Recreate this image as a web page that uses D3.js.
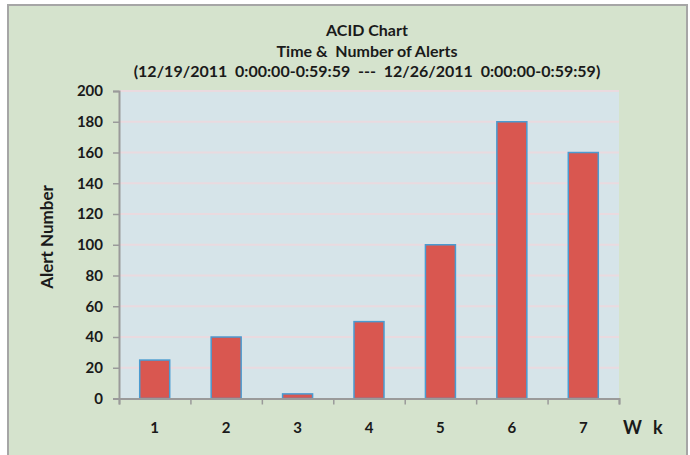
<!DOCTYPE html>
<html lang="en">
<head>
  <meta charset="UTF-8" />
  <script src="https://d3js.org/d3.v7.min.js"></script>
  <title>ACID Chart</title>
  <style>
    body { margin: 0; background: #fff; }
    text { font-family: Lato, "Open Sans", sans-serif; font-weight: bold; fill: #1a1a1a; }
  </style>
</head>
<body>
  <svg width="690" height="455"></svg>
  <script>
    const categories = ["1", "2", "3", "4", "5", "6", "7"];
    const alerts = [25, 40, 3, 50, 100, 180, 160];
    const yTicks = [0, 20, 40, 60, 80, 100, 120, 140, 160, 180, 200];
    const titleLines = [
      "ACID Chart",
      "Time & \u00a0Number of Alerts",
      "(12/19/2011 \u00a00:00:00-0:59:59 \u00a0--- \u00a012/26/2011 \u00a00:00:00-0:59:59)"
    ];

    const svg = d3.select("svg");

    // outer chart box
    svg.append("rect")
      .attr("x", 8).attr("y", 5)
      .attr("width", 679).attr("height", 460)
      .attr("fill", "#d5e3cd")
      .attr("stroke", "#a6a6a6")
      .attr("stroke-width", 2);

    const margin = { top: 91, left: 119 };
    const width = 500;
    const height = 307.5;

    const x = d3.scaleBand()
      .domain(categories)
      .range([0, width])
      .paddingInner(0.58)
      .paddingOuter(0.29);

    const xEdge = d3.scaleLinear()
      .domain([0, categories.length])
      .range([0, width]);

    const y = d3.scaleLinear()
      .domain([0, 200])
      .range([height, 0]);

    const chart = svg.append("g")
      .attr("transform", `translate(${margin.left},${margin.top})`);

    // plot area
    chart.append("rect")
      .attr("width", width).attr("height", height)
      .attr("fill", "#d6e4e9");

    // gridlines
    chart.selectAll(".grid")
      .data(yTicks.filter(d => d > 0))
      .enter()
      .append("line")
      .attr("x1", 0).attr("x2", width)
      .attr("y1", d => y(d)).attr("y2", d => y(d))
      .attr("stroke", "#eadadf")
      .attr("stroke-width", 2);

    // bars
    chart.selectAll(".bar")
      .data(alerts)
      .enter()
      .append("rect")
      .attr("x", (d, i) => x(categories[i]))
      .attr("y", d => y(d))
      .attr("width", x.bandwidth())
      .attr("height", d => height - y(d))
      .attr("fill", "#d95750")
      .attr("stroke", "#4a9bd1")
      .attr("stroke-width", 1.5);

    // y axis
    const yAxis = chart.append("g")
      .call(d3.axisLeft(y).tickValues(yTicks).tickSize(6).tickPadding(10));
    yAxis.select(".domain").attr("stroke", "#9a9a9a").attr("stroke-width", 2);
    yAxis.selectAll(".tick line").attr("stroke", "#9a9a9a").attr("stroke-width", 1.5);
    yAxis.selectAll("text").style("font-size", "15px").attr("fill", "#1a1a1a");

    // x axis line with ticks at category boundaries
    const xAxis = chart.append("g")
      .attr("transform", `translate(0,${height})`)
      .call(d3.axisBottom(xEdge).ticks(categories.length).tickSize(6).tickFormat(""));
    xAxis.select(".domain").attr("stroke", "#9a9a9a").attr("stroke-width", 2);
    xAxis.selectAll(".tick line").attr("stroke", "#9a9a9a").attr("stroke-width", 1.5);

    // category labels
    chart.selectAll(".xlab")
      .data(categories)
      .enter()
      .append("text")
      .attr("x", d => x(d) + x.bandwidth() / 2)
      .attr("y", height + 34)
      .attr("text-anchor", "middle")
      .style("font-size", "15px")
      .text(d => d);

    // "W  k" axis title
    svg.append("text").attr("x", 623).attr("y", 434)
      .style("font-size", "18px").text("W");
    svg.append("text").attr("x", 653).attr("y", 434)
      .style("font-size", "18px").text("k");

    // y axis title
    svg.append("text")
      .attr("transform", "translate(53,237) rotate(-90)")
      .attr("text-anchor", "middle")
      .style("font-size", "17px")
      .text("Alert Number");

    // title
    svg.selectAll(".title")
      .data(titleLines)
      .enter()
      .append("text")
      .attr("x", 367)
      .attr("y", (d, i) => 36 + i * 20.5)
      .attr("text-anchor", "middle")
      .style("font-size", "16px")
      .text(d => d);
  </script>
</body>
</html>
